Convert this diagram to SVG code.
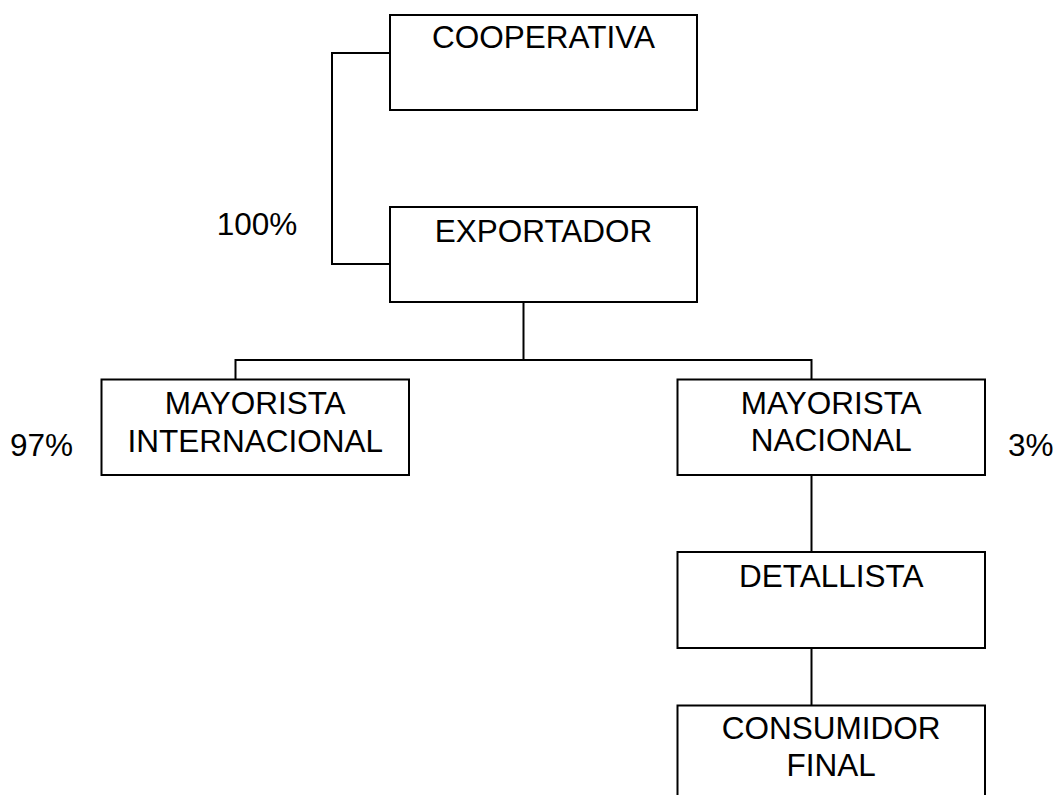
<svg xmlns="http://www.w3.org/2000/svg" width="1055" height="795" viewBox="0 0 1055 795">
<style>
.box{fill:#fff;stroke:#000;stroke-width:2}
.ln{fill:none;stroke:#000;stroke-width:2}
text{font-family:"Liberation Sans",Arial,sans-serif;font-size:31.5px;fill:#000}
.c{text-anchor:middle}
</style>
<rect width="1055" height="795" fill="#fff"/>
<g id="connectors">
<polyline class="ln" points="390,53 332,53 332,264 390,264"/>
<line class="ln" x1="523.5" y1="302" x2="523.5" y2="360"/>
<polyline class="ln" points="235.5,379 235.5,360 811.5,360 811.5,379"/>
<line class="ln" x1="811.5" y1="475" x2="811.5" y2="552"/>
<line class="ln" x1="811.5" y1="648" x2="811.5" y2="705"/>
</g>
<g id="cooperativa"><rect class="box" x="390" y="15" width="307" height="95"/><text class="c" x="543.5" y="48.3">COOPERATIVA</text></g>
<g id="exportador"><rect class="box" x="390" y="207" width="307" height="95"/><text class="c" x="543.5" y="242.3">EXPORTADOR</text></g>
<g id="mayorista-internacional"><rect class="box" x="101.5" y="379.5" width="307.5" height="95.5"/><text class="c" x="255.2" y="414">MAYORISTA</text><text class="c" x="255.2" y="452.3">INTERNACIONAL</text></g>
<g id="mayorista-nacional"><rect class="box" x="677.5" y="379.5" width="307.5" height="95.5"/><text class="c" x="831.2" y="414.3">MAYORISTA</text><text class="c" x="831.2" y="451">NACIONAL</text></g>
<g id="detallista"><rect class="box" x="677.5" y="552" width="307.5" height="96"/><text class="c" x="831.2" y="586.7">DETALLISTA</text></g>
<g id="consumidor-final"><rect class="box" x="677.5" y="705.5" width="307.5" height="96"/><text class="c" x="831.2" y="739.3">CONSUMIDOR</text><text class="c" x="831.2" y="776">FINAL</text></g>
<g id="labels">
<text x="216.7" y="235">100%</text>
<text x="10" y="455.7">97%</text>
<text x="1008" y="456">3%</text>
</g>
</svg>
